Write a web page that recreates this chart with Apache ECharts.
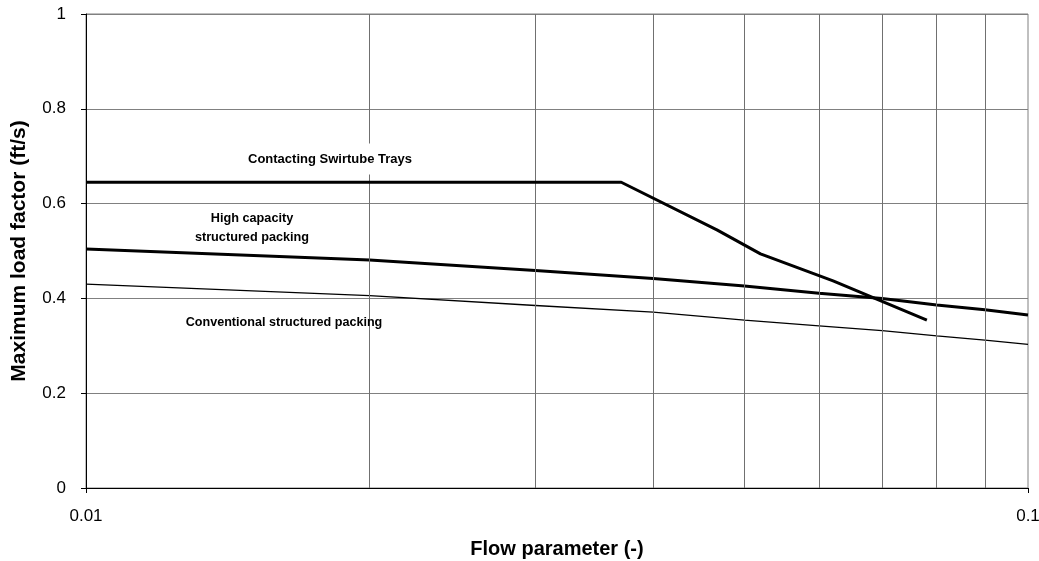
<!DOCTYPE html>
<html>
<head>
<meta charset="utf-8">
<script src="https://cdn.jsdelivr.net/npm/echarts@6/dist/echarts.min.js"></script>
<style>html,body{margin:0;padding:0;background:#fff;}#c{width:1039px;height:561px;}</style>
</head>
<body>
<div id="c"></div>
<script>
const minorGridX = [0.02, 0.03, 0.04, 0.05, 0.06, 0.07, 0.08, 0.09];
const swirlX = [0.01, 0.0370, 0.0468, 0.0520, 0.0621, 0.0781];
const swirlY = [0.645, 0.645, 0.544, 0.494, 0.437, 0.354];
const packX = [0.01, 0.02, 0.03, 0.04, 0.05, 0.06, 0.07, 0.08, 0.09, 0.1];
const highCapY = [0.504, 0.481, 0.459, 0.442, 0.426, 0.411, 0.400, 0.386, 0.376, 0.365];
const convY = [0.430, 0.406, 0.385, 0.371, 0.354, 0.342, 0.332, 0.321, 0.312, 0.303];
const labels = {
  swirl: 'Contacting Swirtube Trays',
  highCap: 'High capacity\nstructured packing',
  conv: 'Conventional structured packing'
};

const pair = (xs, ys) => xs.map((x, i) => [x, ys[i]]);
const font = 'Liberation Sans, Arial, sans-serif';

const chart = echarts.init(document.getElementById('c'), null, {renderer: 'canvas'});
chart.setOption({
  animation: false,
  backgroundColor: '#fff',
  grid: {left: 86, right: 11, top: 14, bottom: 73, containLabel: false, outerBoundsMode: 'none',
    show: true, borderColor: '#808080', borderWidth: 1, backgroundColor: 'transparent'},
  xAxis: {
    type: 'log', logBase: 10, min: 0.01, max: 0.1,
    name: 'Flow parameter (-)', nameLocation: 'middle', nameGap: 51,
    nameTextStyle: {fontFamily: font, fontWeight: 'bold', fontSize: 20, color: '#000'},
    axisLine: {show: true, lineStyle: {color: '#000', width: 1}},
    axisTick: {show: true, length: 5, lineStyle: {color: '#000'}},
    axisLabel: {fontFamily: font, fontSize: 17, color: '#000', margin: 20,
      formatter: v => (Math.abs(v - 0.01) < 1e-9 ? '0.01' : (Math.abs(v - 0.1) < 1e-9 ? '0.1' : ''))},
    splitLine: {show: false},
    minorTick: {show: false}, minorSplitLine: {show: false}
  },
  yAxis: {
    type: 'value', min: 0, max: 1, interval: 0.2,
    name: 'Maximum load factor (ft/s)', nameLocation: 'middle', nameGap: 56, nameRotate: 90,
    nameTextStyle: {fontFamily: font, fontWeight: 'bold', fontSize: 21, color: '#000'},
    axisLine: {show: true, lineStyle: {color: '#000', width: 1}},
    axisTick: {show: true, length: 5, lineStyle: {color: '#000'}},
    axisLabel: {fontFamily: font, fontSize: 17, color: '#000', margin: 20,
      formatter: v => String(Math.round(v * 10) / 10)},
    splitLine: {show: true, lineStyle: {color: '#808080', width: 1}}
  },
  series: [
    {
      type: 'line', data: [], silent: true,
      markLine: {
        silent: true, symbol: ['none', 'none'], label: {show: false},
        lineStyle: {color: '#707070', width: 1, type: 'solid'},
        data: minorGridX.map(x => ({xAxis: x}))
      }
    },
    {type: 'line', data: pair(packX, convY), showSymbol: false, symbol: 'none', smooth: false,
      lineStyle: {color: '#000', width: 1.3}, z: 3},
    {type: 'line', data: pair(packX, highCapY), showSymbol: false, symbol: 'none',
      lineStyle: {color: '#000', width: 3}, z: 4},
    {type: 'line', data: pair(swirlX, swirlY), showSymbol: false, symbol: 'none',
      lineStyle: {color: '#000', width: 3}, z: 5}
  ],
  graphic: [
    {type: 'text', x: 330, y: 159, z: 100,
      style: {text: labels.swirl, fontFamily: font, fontWeight: 'bold', fontSize: 13, fill: '#000',
        align: 'center', verticalAlign: 'middle', backgroundColor: '#fff', padding: [9, 4]}},
    {type: 'text', x: 252, y: 228, z: 100,
      style: {text: labels.highCap, fontFamily: font, fontWeight: 'bold', fontSize: 12.7, fill: '#000',
        align: 'center', verticalAlign: 'middle', lineHeight: 19}},
    {type: 'text', x: 284, y: 323, z: 100,
      style: {text: labels.conv, fontFamily: font, fontWeight: 'bold', fontSize: 12.6, fill: '#000',
        align: 'center', verticalAlign: 'middle'}}
  ]
});
</script>
</body>
</html>
